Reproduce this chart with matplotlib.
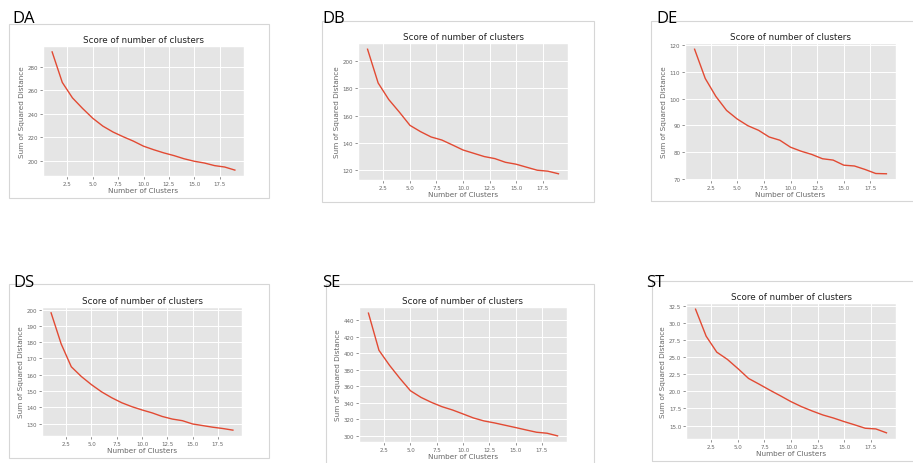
import matplotlib
matplotlib.use('Agg')
import matplotlib.pyplot as plt
from matplotlib.patches import Rectangle

plt.style.use('ggplot')

W, H = 913, 464

clusters = list(range(1, 20))

da = [292.5, 266.6, 253.5, 244.5, 236.2, 229.5, 224.5, 220.5, 216.8, 212.5,
      209.5, 206.8, 204.5, 201.8, 199.7, 198.2, 196.0, 194.8, 192.2]
db = [208.7, 184.0, 171.9, 162.7, 153.0, 148.4, 144.5, 142.3, 138.7, 135.0,
      132.6, 130.2, 128.7, 126.0, 124.6, 122.4, 120.2, 119.5, 117.6]
de = [118.4, 107.5, 100.8, 95.6, 92.4, 89.9, 88.2, 85.7, 84.5, 81.9,
      80.4, 79.2, 77.6, 77.1, 75.2, 74.9, 73.6, 72.1, 72.0]
ds = [198.0, 178.9, 164.9, 158.9, 153.9, 149.5, 145.9, 142.8, 140.4, 138.4,
      136.6, 134.4, 132.8, 131.8, 129.8, 128.8, 127.8, 127.0, 126.0]
se = [448.9, 403.8, 385.7, 369.6, 354.7, 346.7, 340.6, 335.4, 331.4, 326.6,
      321.7, 318.1, 315.7, 312.9, 310.1, 307.2, 304.4, 303.2, 300.0]
st = [32.06, 28.1, 25.76, 24.7, 23.34, 21.9, 21.06, 20.19, 19.36, 18.5,
      17.76, 17.13, 16.55, 16.1, 15.58, 15.1, 14.6, 14.5, 13.93]

names = ['DA', 'DB', 'DE', 'DS', 'SE', 'ST']
series = [da, db, de, ds, se, st]

# layout in pixels: axes box (l, t, r, b), frame box (l, t, r, b), label pos (x, baseline)
axes_px = [(43, 47, 244, 177), (358, 44, 568, 181), (685, 44, 896, 181),
           (42, 308, 242, 437), (359, 308, 567, 443), (686, 304, 896, 440)]
frame_px = [(9, 25, 269, 199), (322, 22, 594, 203), (651, 22, 915, 202),
            (9, 285, 269, 459), (326, 285, 594, 470), (652, 282, 915, 462)]
label_px = [(12, 23), (322, 23), (656, 23), (13, 287), (322, 287), (646, 287)]

fig = plt.figure(figsize=(W / 100, H / 100), dpi=100)
fig.patch.set_facecolor('white')

for name, ys, (l, t, r, b), (fl, ft, fr, fb), (lx, ly) in zip(
        names, series, axes_px, frame_px, label_px):
    fig.patches.append(Rectangle((fl / W, 1 - fb / H), (fr - fl) / W, (fb - ft) / H,
                                 transform=fig.transFigure, fill=False,
                                 edgecolor='#d6d6d6', linewidth=0.8))
    fig.text(lx / W, 1 - ly / H, name, fontsize=12, family=['Open Sans', 'DejaVu Sans'],
             color='black', va='baseline', ha='left')
    ax = fig.add_axes([l / W, 1 - b / H, (r - l) / W, (b - t) / H])
    ax.plot(clusters, ys, color='#E24A33', linewidth=1.0)
    ax.set_title('Score of number of clusters', fontsize=6.3, pad=3, color='#222222')
    ax.set_xlabel('Number of Clusters', fontsize=5.2, labelpad=1, color='#666666')
    ax.set_ylabel('Sum of Squared Distance', fontsize=5.2, labelpad=2, color='#666666')
    ax.tick_params(labelsize=4, length=2, width=0.5, pad=1.5, colors='#666666')
    ax.grid(color='white', linewidth=0.7)

fig.savefig('out.png', dpi=100)
